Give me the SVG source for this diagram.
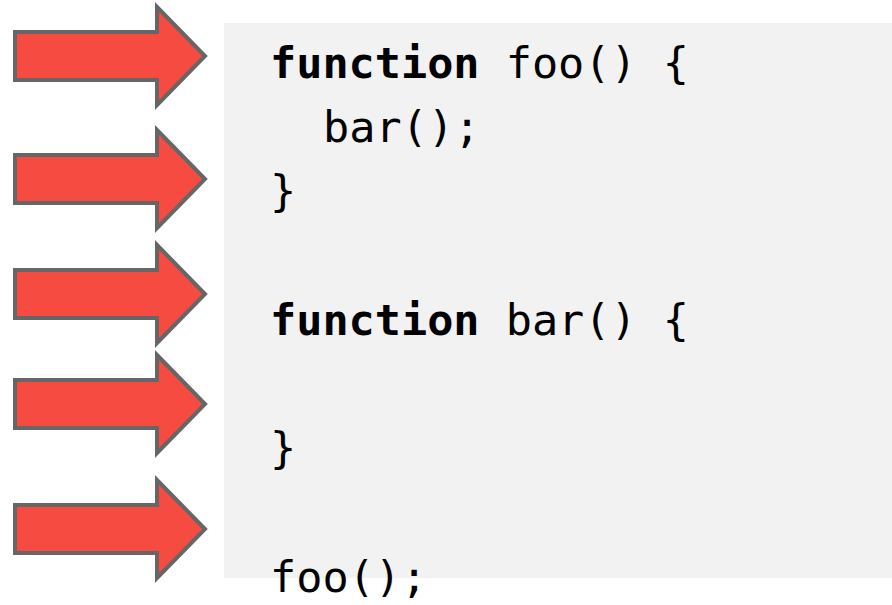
<svg xmlns="http://www.w3.org/2000/svg" xmlns:xlink="http://www.w3.org/1999/xlink" width="892" height="605" viewBox="0 0 892 605">
  <style>
    .arrow { fill: #F54B40; stroke: #666666; stroke-width: 4; stroke-linejoin: miter; }
    .code { font-family: "DejaVu Sans Mono", "Liberation Mono", monospace; font-size: 43.5px; fill: #000000; }
    .kw { font-weight: bold; }
  </style>
  <defs>
    <path id="arrowShape" d="M15,-24 H157 V-49 L205,0 L157,49 V24 H15 Z"/>
  </defs>
  <rect width="892" height="605" fill="#ffffff"/>
  <g id="codeblock">
    <rect x="224" y="23" width="668" height="555" fill="#F2F2F2"/>
    <text class="code" x="270" y="78"><tspan class="kw">function</tspan> foo() {</text>
    <text class="code" x="323" y="142">bar();</text>
    <text class="code" x="270" y="206">}</text>
    <text class="code" x="270" y="335"><tspan class="kw">function</tspan> bar() {</text>
    <text class="code" x="270" y="463">}</text>
    <text class="code" x="270" y="592">foo();</text>
  </g>
  <g id="arrows">
    <g id="arrow1"><use xlink:href="#arrowShape" class="arrow" transform="translate(0,56)"/></g>
    <g id="arrow2"><use xlink:href="#arrowShape" class="arrow" transform="translate(0,179)"/></g>
    <g id="arrow3"><use xlink:href="#arrowShape" class="arrow" transform="translate(0,294)"/></g>
    <g id="arrow4"><use xlink:href="#arrowShape" class="arrow" transform="translate(0,404)"/></g>
    <g id="arrow5"><use xlink:href="#arrowShape" class="arrow" transform="translate(0,529)"/></g>
  </g>
</svg>
